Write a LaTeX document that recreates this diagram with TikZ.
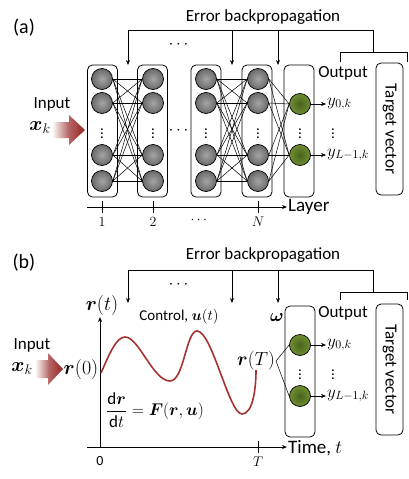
\RequirePackage{fix-cm}
\documentclass[tikz,border=0pt]{standalone}
\usepackage{amsmath}
\usepackage{bm}
\usepackage{fontspec}
\setmainfont{Carlito}
\usetikzlibrary{arrows.meta}
\definecolor{dred}{RGB}{150,35,35}
\definecolor{curvered}{RGB}{165,50,50}
\definecolor{gin}{RGB}{165,165,165}
\definecolor{gout}{RGB}{105,105,105}
\definecolor{grin}{RGB}{72,98,28}
\definecolor{grout}{RGB}{112,142,50}
\newcommand\fsz[1]{\fontsize{#1}{#1}\selectfont}
\begin{document}
\begin{tikzpicture}[x=1pt,y=-1pt,
  neuron/.style={circle,draw=black,line width=0.7pt,minimum size=21pt,inner sep=0pt,inner color=gin,outer color=gout},
  oneuron/.style={circle,draw=black,line width=0.7pt,minimum size=21pt,inner sep=0pt,inner color=grin,outer color=grout},
  layerbox/.style={draw=black,line width=0.8pt,rounded corners=5pt,minimum width=30pt,inner sep=0pt},
  conn/.style={line width=0.5pt},
  tip/.style={-{Stealth[length=5pt,width=4pt]}},
  fb/.style={line width=0.8pt},
  txt/.style={font=\fsz{17},inner sep=1pt},
  mtxt/.style={font=\fsz{17},inner sep=1pt},
  vd/.style={font=\fsz{15},inner sep=0pt},
  axis/.style={line width=1pt},
]
\useasboundingbox (0,0) rectangle (409,479);

% ================= (a) =================
\node[font=\fsz{20}] (lbla) at (24,28) {(a)};
\node[txt] (eba) at (263,17) {Error backpropagation};
\node[mtxt] (topdotsa) at (180,45) {$\cdots$};

% layer boxes
\node[layerbox,minimum height=132pt] (B1) at (102.5,131) {};
\node[layerbox,minimum height=132pt] (B2) at (152.5,131) {};
\node[layerbox,minimum height=132pt] (B3) at (206,131) {};
\node[layerbox,minimum height=132pt] (B4) at (257,131) {};
\node[layerbox,minimum height=132pt] (B5) at (299,131) {};
\node[layerbox,minimum width=27pt,minimum height=132pt] (TV) at (389.5,129) {};
\node[txt,rotate=-90] (tvt) at (TV.center) {Target vector};

% neurons
\foreach \c/\x in {A/102,B/153,C/206,D/258}{
  \foreach \r/\y in {1/79,2/103,3/155,4/181}{
    \node[neuron] (\c\r) at (\x,\y) {};
  }
  \node[vd] (vd\c) at (\x,131) {$\vdots$};
}
\node[oneuron] (O1) at (300,104) {};
\node[oneuron] (O2) at (300,155) {};
\node[vd] (vdO) at (300,131) {$\vdots$};
\node[mtxt] (hdots) at (180,131) {$\cdots$};

\foreach \i in {1,...,4}{
  \foreach \j in {1,...,4}{
    \draw[conn] (A\i.east) -- (B\j.west);
    \draw[conn] (C\i.east) -- (D\j.west);
  }
  \draw[conn] (D\i.east) -- (O1.west);
  \draw[conn] (D\i.east) -- (O2.west);
}

% outputs
\node[txt] (outa) at (343,73) {Output};
\node[mtxt,anchor=west] (y0a) at (326,104) {$y_{0,k}$};
\node[mtxt,anchor=west] (y1a) at (326,155) {$y_{L-1,k}$};
\node[vd] (vdya) at (333,131) {$\vdots$};
\draw[conn,tip] (O1.east) -- (y0a.west);
\draw[conn,tip] (O2.east) -- (y1a.west);

% feedback
\coordinate (fa1) at (128,65);
\coordinate (fa2) at (128,30);
\coordinate (fa3) at (373,30);
\coordinate (fa4) at (373,52);
\coordinate (fa5) at (232,30);
\coordinate (fa6) at (232,65);
\coordinate (fa7) at (278,30);
\coordinate (fa8) at (278,65);
\draw[fb,tip] (fa3) -- (fa2) -- (fa1);
\draw[fb] (fa3) -- (fa4);
\draw[fb,tip] (fa5) -- (fa6);
\draw[fb,tip] (fa7) -- (fa8);
\coordinate (bra1) at (340,62);
\coordinate (bra2) at (340,52);
\coordinate (bra3) at (407,52);
\coordinate (bra4) at (407,62);
\draw[fb] (bra1) -- (bra2) -- (bra3) -- (bra4);

% layer axis
\coordinate (la0) at (87,207);
\node[txt,anchor=west,font=\fsz{19}] (layer) at (287,207) {Layer};
\draw[axis,tip] (la0) -- (layer.west);
\foreach \x/\n/\t in {102/t1/$1$,153/t2/$2$,258/tN/$N$}{
  \coordinate (\n a) at (\x,201);
  \coordinate (\n b) at (\x,213);
  \draw[axis] (\n a) -- (\n b);
  \node[font=\fsz{14},inner sep=0pt] (\n l) at (\x,222) {\t};
}
\node[font=\fsz{14},inner sep=0pt] (tdots) at (200,220) {$\cdots$};

% input arrow (a)
\shade[left color=white,right color=dred,middle color=dred!70]
  (52,122) -- (69,122) -- (69,115) -- (85,130) -- (69,145) -- (69,138) -- (52,138) -- cycle;
\node[txt] (inpa) at (52,104) {Input};
\node[font=\fsz{20},inner sep=0pt] (xka) at (40,128) {$\bm{x}_k$};

% ================= (b) =================
\node[font=\fsz{20}] (lblb) at (24,263) {(b)};
\node[txt] (ebb) at (263,255) {Error backpropagation};
\node[mtxt] (topdotsb) at (180,285) {$\cdots$};

\coordinate (fb1) at (128,303);
\coordinate (fb2) at (128,270);
\coordinate (fb3) at (373,270);
\coordinate (fb4) at (373,292);
\coordinate (fb5) at (232,270);
\coordinate (fb6) at (232,303);
\coordinate (fb7) at (278,270);
\coordinate (fb8) at (278,303);
\draw[fb,tip] (fb3) -- (fb2) -- (fb1);
\draw[fb] (fb3) -- (fb4);
\draw[fb,tip] (fb5) -- (fb6);
\draw[fb,tip] (fb7) -- (fb8);
\coordinate (brb1) at (340,300);
\coordinate (brb2) at (340,292);
\coordinate (brb3) at (407,292);
\coordinate (brb4) at (407,300);
\draw[fb] (brb1) -- (brb2) -- (brb3) -- (brb4);

% axes
\coordinate (orig) at (100,447);
\coordinate (yend) at (100,317);
\coordinate (xst) at (87,447);
\node[txt,anchor=west,font=\fsz{19}] (timet) at (287,448) {Time, $t$};
\draw[axis,tip] (xst) -- (timet.west |- orig);
\draw[axis,tip] (orig) -- (yend);
\node[font=\fsz{20},inner sep=0pt] (rt) at (102,305) {$\bm{r}(t)$};
\node[font=\fsz{14},inner sep=0pt] (zero) at (100,461) {0};
\coordinate (Ta) at (258,441);
\coordinate (Tb) at (258,453);
\draw[axis] (Ta) -- (Tb);
\node[font=\fsz{14},inner sep=0pt] (Tl) at (258,462) {$T$};

% curve
\coordinate (c0) at (101,373);
\coordinate (c1) at (125,337);
\coordinate (c2) at (170,381);
\coordinate (c3) at (197,331);
\coordinate (c4) at (242,414);
\coordinate (c5) at (256,370);
\draw[curvered,line width=1.6pt]
  (c0) .. controls (109,355) and (116,337) .. (c1)
       .. controls (139,337) and (153,381) .. (c2)
       .. controls (184,381) and (186,331) .. (c3)
       .. controls (212,331) and (229,414) .. (c4)
       .. controls (252,414) and (256,392) .. (c5);

\node[font=\fsz{15},inner sep=1pt] (ctrl) at (179,317) {Control, $\bm{u}(t)$};
\node[font=\fsz{18},inner sep=0pt] (omega) at (277,317) {$\bm{\omega}$};
\node[font=\fsz{17},inner sep=0pt] (eq) at (155,410) {$\dfrac{\mathrm{d}\bm{r}}{\mathrm{d}t}=\bm{F}(\bm{r},\bm{u})$};
\node[font=\fsz{19},inner sep=1pt] (rT) at (256,361) {$\bm{r}(T)$};

% output (b)
\node[layerbox,minimum height=131pt] (B6) at (300,371.5) {};
\node[layerbox,minimum width=27pt,minimum height=131pt] (TV2) at (389.5,369.5) {};
\node[txt,rotate=-90] (tvt2) at (TV2.center) {Target vector};
\node[oneuron] (P1) at (300,345) {};
\node[oneuron] (P2) at (300,396) {};
\node[vd] (vdP) at (300,372) {$\vdots$};
\draw[conn] (rT.east) -- (P1.west);
\draw[conn] (rT.east) -- (P2.west);
\node[txt] (outb) at (343,313) {Output};
\node[mtxt,anchor=west] (y0b) at (326,345) {$y_{0,k}$};
\node[mtxt,anchor=west] (y1b) at (326,396) {$y_{L-1,k}$};
\node[vd] (vdyb) at (333,372) {$\vdots$};
\draw[conn,tip] (P1.east) -- (y0b.west);
\draw[conn,tip] (P2.east) -- (y1b.west);

% input (b)
\shade[left color=white,right color=dred,middle color=dred!70]
  (35,360) -- (48,360) -- (48,353) -- (63,369) -- (48,385) -- (48,378) -- (35,378) -- cycle;
\node[txt] (inpb) at (32,345) {Input};
\node[font=\fsz{20},inner sep=0pt] (xkb) at (22,369) {$\bm{x}_k$};
\node[font=\fsz{20},inner sep=0pt] (r0) at (81,369) {$\bm{r}(0)$};
\end{tikzpicture}
\end{document}
